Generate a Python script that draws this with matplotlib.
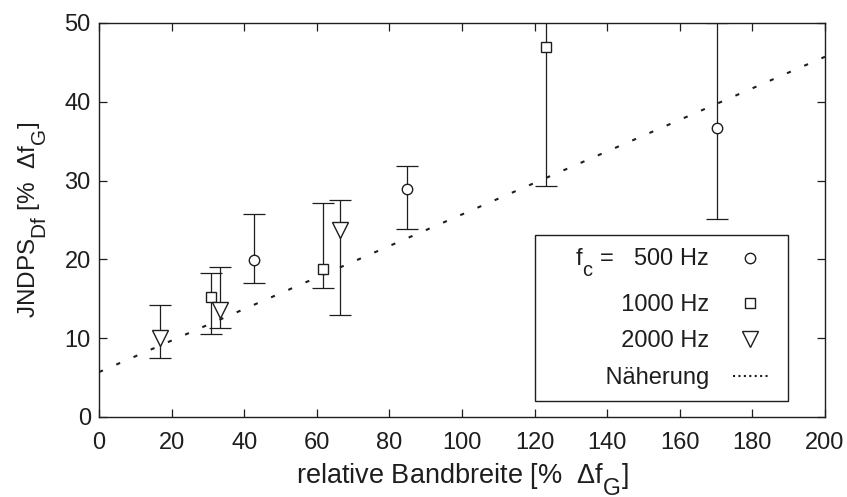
import matplotlib
matplotlib.use('Agg')
import matplotlib.pyplot as plt
from matplotlib.lines import Line2D
from matplotlib.path import Path
import numpy as np

# bigger, lower subscripts like the original figure
try:
	import matplotlib._mathtext as mt
	mt.SHRINK_FACTOR = 0.85
	mt.FontConstantsBase.sub1 = 0.85
	mt.FontConstantsBase.sub2 = 0.85
except Exception:
	pass

# ---------- data

x_500 = [42.6, 84.9, 170.2]
y_500 = [19.9, 28.9, 36.6]
lo_500 = [17.0, 23.9, 25.1]
hi_500 = [25.8, 31.8, 50.0]

x_1000 = [30.8, 61.6, 123.1]
y_1000 = [15.2, 18.8, 47.0]
lo_1000 = [10.5, 16.3, 29.3]
hi_1000 = [18.3, 27.2, 53.0]

x_2000 = [16.8, 33.2, 66.5]
y_2000 = [10.0, 13.6, 23.7]
lo_2000 = [7.5, 11.3, 13.0]
hi_2000 = [14.2, 19.0, 27.5]

fit_x = [0, 200]
fit_y = [5.7, 45.7]

labels = [' f$_\\mathregular{c}$ =   500 Hz', '          1000 Hz', '          2000 Hz', ' Näherung']

# ---------- style

plt.rcParams['font.family'] = 'Liberation Sans'
plt.rcParams['mathtext.fontset'] = 'custom'
plt.rcParams['mathtext.rm'] = 'Liberation Sans'
plt.rcParams['mathtext.it'] = 'Liberation Sans:italic'
ink = '#1e1e1e'
fs = 17

fig = plt.figure(figsize=(8.47, 4.97), dpi=100)
ax = fig.add_axes([0.117, 0.161, 0.857, 0.793])

def series(xs, ys, lo, hi, mk, ms):
	ys = np.array(ys)
	err = [ys - np.array(lo), np.array(hi) - ys]
	ax.errorbar(xs, ys, yerr=err, fmt='none', ecolor=ink, elinewidth=0.9, capsize=8, capthick=0.9, zorder=2)
	ax.plot(xs, ys, ls='none', marker=mk, ms=ms, mfc='white', mec=ink, mew=1.0, zorder=3)

series(x_500, y_500, lo_500, hi_500, 'o', 7.5)
series(x_1000, y_1000, lo_1000, hi_1000, 's', 7.5)
series(x_2000, y_2000, lo_2000, hi_2000, 'v', 11)

ax.plot(fit_x, fit_y, color=ink, lw=1.5, ls=(0, (2, 7)), zorder=1)

ax.set_xlim(0, 200)
ax.set_ylim(0, 50)
ax.set_xticks(range(0, 201, 20))
ax.set_yticks(range(0, 51, 10))
ax.tick_params(axis='both', direction='in', length=6, width=0.9, top=True, right=True, colors=ink, labelsize=fs)
ax.tick_params(axis='x', pad=11)
ax.tick_params(axis='y', pad=6)
for s in ax.spines.values():
	s.set_linewidth(1.0)
	s.set_color(ink)

ax.set_xlabel('relative Bandbreite [%  Δf$_\\mathregular{G}$]', fontsize=19.5, color=ink, labelpad=5)
ax.set_ylabel('JNDPS$_\\mathregular{Df}$ [%  Δf$_\\mathregular{G}$]', fontsize=17.5, color=ink, labelpad=11)

handles = [
	Line2D([], [], ls='none', marker='o', ms=7.5, mfc='white', mec=ink),
	Line2D([], [], ls='none', marker='s', ms=7.5, mfc='white', mec=ink),
	Line2D([], [], ls='none', marker='v', ms=11, mfc='white', mec=ink),
	Line2D([], [], color=ink, lw=1.5, ls=(0, (1, 1.6))),
]
leg = ax.legend(handles, labels, loc='upper right', bbox_to_anchor=(0.938, 0.461), borderaxespad=0,
	markerfirst=False, fontsize=fs, frameon=True, fancybox=False, edgecolor=ink, framealpha=1,
	handlelength=1.5, handletextpad=1.0, labelspacing=0.62, borderpad=0.5)

# legend frame: extra room left and right only
def wide_box(x0, y0, width, height, mutation_size):
	px = 0.35 * mutation_size
	return Path([(x0 - px, y0), (x0 + width + px, y0), (x0 + width + px, y0 + height),
		(x0 - px, y0 + height), (x0 - px, y0)], closed=True)

leg.get_frame().set_boxstyle(wide_box)
leg.get_frame().set_linewidth(1.0)
for t in leg.get_texts():
	t.set_color(ink)

fig.savefig('out.png', dpi=100)
